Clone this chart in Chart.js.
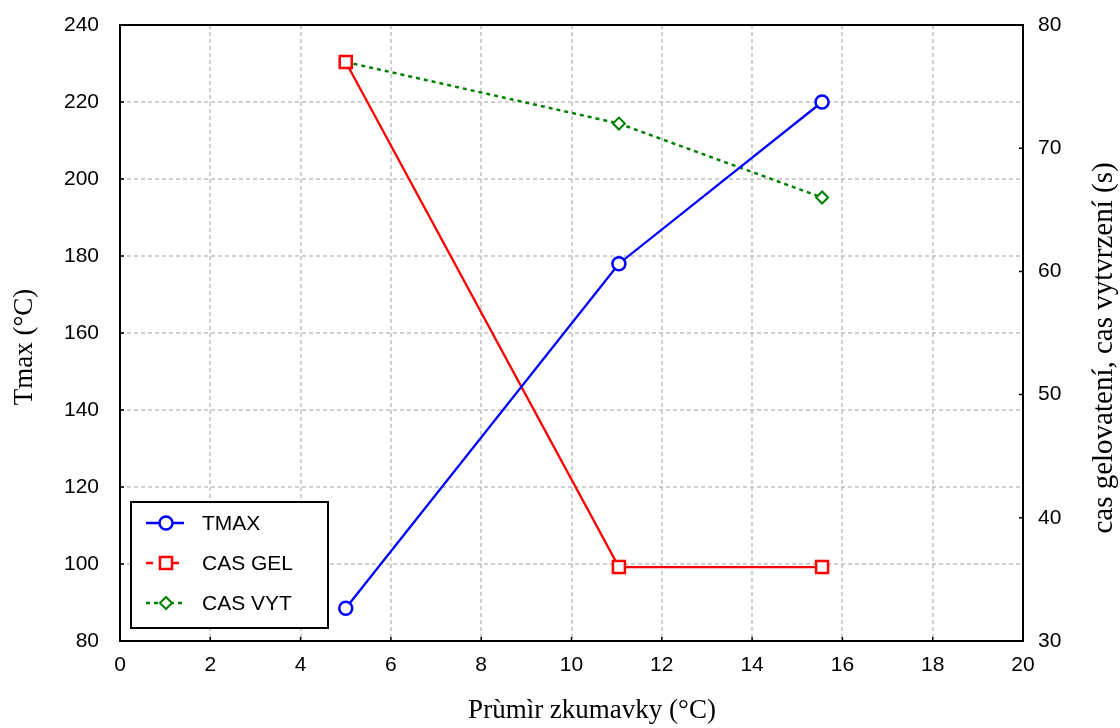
<!DOCTYPE html>
<html>
<head>
<meta charset="utf-8">
<title>Tmax a casy</title>
<script src="https://cdn.jsdelivr.net/npm/chart.js@4/dist/chart.umd.min.js"></script>
<style>
    html, body { margin: 0; padding: 0; background: #fff; }
    #wrap { width: 1120px; height: 728px; }
</style>
</head>
<body>
<div id="wrap"><canvas id="chart" width="1120" height="728"></canvas></div>
<script>
// prumer zkumavky
const diameters = [5.0, 11.05, 15.55];
// Tmax (°C), leva osa
const tmaxValues = [88.5, 178, 220];
// casy (s), prava osa
const casGelValues = [77, 36, 36];
const casVytValues = [77, 72, 66];

const seriesNames = ['TMAX', 'CAS GEL', 'CAS VYT'];
const xTicks = [0, 2, 4, 6, 8, 10, 12, 14, 16, 18, 20];
const leftTicks = [80, 100, 120, 140, 160, 180, 200, 220, 240];
const rightTicks = [30, 40, 50, 60, 70, 80];

const xTitle = 'Prùmìr zkumavky (°C)';
const leftTitle = 'Tmax (°C)';
const rightTitle = 'cas gelovatení, cas vytvrzení (s)';

const tickFont = { family: '"Liberation Sans", Arial, sans-serif', size: 21 };
const serif = '"Liberation Serif", "Times New Roman", serif';

function points(values) {
    return values.map((v, i) => ({ x: diameters[i], y: v }));
}

// dashed grey grid, drawn under the lines
const dashedGrid = {
    id: 'dashedGrid',
    beforeDatasetsDraw(chart) {
        const ctx = chart.ctx;
        const a = chart.chartArea;
        const x = chart.scales.x, yl = chart.scales.y;
        ctx.save();
        ctx.strokeStyle = '#c0c0c0';
        ctx.lineWidth = 1.5;
        ctx.setLineDash([4, 3]);
        ctx.beginPath();
        xTicks.forEach(t => {
            const px = Math.round(x.getPixelForValue(t));
            ctx.moveTo(px, a.top); ctx.lineTo(px, a.bottom);
        });
        leftTicks.forEach(t => {
            const py = Math.round(yl.getPixelForValue(t));
            ctx.moveTo(a.left, py); ctx.lineTo(a.right, py);
        });
        ctx.stroke();
        ctx.restore();
    }
};

// frame around plot area + small inward ticks + axis titles
const framePlugin = {
    id: 'frame',
    afterDatasetsDraw(chart) {
        const ctx = chart.ctx;
        const a = chart.chartArea;
        ctx.save();
        ctx.strokeStyle = '#000';
        ctx.lineWidth = 2;
        ctx.strokeRect(a.left, a.top, a.right - a.left, a.bottom - a.top);
        ctx.lineWidth = 1.5;
        ctx.beginPath();
        const x = chart.scales.x, yl = chart.scales.y, yr = chart.scales.y1;
        xTicks.forEach(t => {
            const px = x.getPixelForValue(t);
            ctx.moveTo(px, a.bottom); ctx.lineTo(px, a.bottom - 4);
        });
        leftTicks.forEach(t => {
            const py = yl.getPixelForValue(t);
            ctx.moveTo(a.left, py); ctx.lineTo(a.left + 4, py);
        });
        rightTicks.forEach(t => {
            const py = yr.getPixelForValue(t);
            ctx.moveTo(a.right, py); ctx.lineTo(a.right - 4, py);
        });
        ctx.stroke();

        // titles sit a bit right/below the plot centre
        ctx.fillStyle = '#000';
        ctx.textAlign = 'center';
        ctx.textBaseline = 'middle';
        ctx.font = '27px ' + serif;
        ctx.fillText(xTitle, 592, 711);
        ctx.save();
        ctx.translate(25, 347);
        ctx.rotate(-Math.PI / 2);
        ctx.fillText(leftTitle, 0, 0);
        ctx.restore();
        ctx.save();
        ctx.font = '29px ' + serif;
        ctx.translate(1104, 348);
        ctx.rotate(-Math.PI / 2);
        ctx.fillText(rightTitle, 0, 0);
        ctx.restore();
        ctx.restore();
    }
};

// boxed legend in lower left corner
const boxLegend = {
    id: 'boxLegend',
    afterDraw(chart) {
        const ctx = chart.ctx;
        const left = 131, top = 502, w = 197, h = 126;
        ctx.save();
        ctx.fillStyle = '#fff';
        ctx.fillRect(left, top, w, h);
        ctx.strokeStyle = '#000';
        ctx.lineWidth = 2;
        ctx.strokeRect(left, top, w, h);
        const rowDash = [[], [7, 6], [4, 4]];
        chart.data.datasets.forEach((ds, i) => {
            const y = top + 21 + i * 40;
            ctx.strokeStyle = ds.borderColor;
            ctx.lineWidth = ds.borderWidth;
            ctx.setLineDash(rowDash[i]);
            ctx.beginPath();
            ctx.moveTo(146, y);
            ctx.lineTo(184, y);
            ctx.stroke();
            ctx.setLineDash([]);
            ctx.fillStyle = '#fff';
            ctx.strokeStyle = ds.borderColor;
            ctx.lineWidth = ds.pointBorderWidth;
            Chart.helpers.drawPoint(ctx, {
                pointStyle: ds.pointStyle,
                radius: ds.pointRadius,
                borderWidth: ds.pointBorderWidth
            }, 166, y);
            ctx.fillStyle = '#000';
            ctx.font = '21px "Liberation Sans", Arial, sans-serif';
            ctx.textBaseline = 'middle';
            ctx.fillText(seriesNames[i], 202, y + 1);
        });
        ctx.restore();
    }
};

const cfg = {
    type: 'line',
    data: {
        datasets: [{
            label: seriesNames[0],
            data: points(tmaxValues),
            yAxisID: 'y',
            borderColor: '#0000ff',
            backgroundColor: '#fff',
            borderWidth: 2.3,
            pointStyle: 'circle',
            pointRadius: 6.5,
            pointBorderWidth: 2.5,
            pointBackgroundColor: '#fff'
        }, {
            label: seriesNames[1],
            data: points(casGelValues),
            yAxisID: 'y1',
            borderColor: '#ff0000',
            backgroundColor: '#fff',
            borderWidth: 2.3,
            pointStyle: 'rect',
            pointRadius: 8.5,
            pointBorderWidth: 2.5,
            pointBackgroundColor: '#fff'
        }, {
            label: seriesNames[2],
            data: points(casVytValues),
            yAxisID: 'y1',
            borderColor: '#008000',
            backgroundColor: '#fff',
            borderWidth: 2.5,
            borderDash: [4, 4],
            pointStyle: 'rectRot',
            pointRadius: 6,
            pointBorderWidth: 2,
            pointBackgroundColor: '#fff'
        }]
    },
    options: {
        responsive: false,
        animation: false,
        layout: { padding: { top: 25, left: 0, right: 0, bottom: 0 } },
        plugins: { legend: { display: false }, tooltip: { enabled: false } },
        scales: {
            x: {
                type: 'linear',
                min: 0, max: 20,
                afterBuildTicks: s => { s.ticks = xTicks.map(v => ({ value: v })); },
                afterFit: s => { s.height = 87; s.paddingLeft = 0; s.paddingRight = 0; },
                border: { display: false },
                grid: { display: false, drawTicks: false },
                ticks: { color: '#000', font: tickFont, padding: 12, maxRotation: 0 }
            },
            y: {
                position: 'left',
                min: 80, max: 240,
                afterBuildTicks: s => { s.ticks = leftTicks.map(v => ({ value: v })); },
                afterFit: s => { s.width = 120; s.paddingTop = 0; s.paddingBottom = 0; },
                border: { display: false },
                grid: { display: false, drawTicks: false },
                ticks: { color: '#000', font: tickFont, padding: 21 }
            },
            y1: {
                position: 'right',
                min: 30, max: 80,
                afterBuildTicks: s => { s.ticks = rightTicks.map(v => ({ value: v })); },
                afterFit: s => { s.width = 97; s.paddingTop = 0; s.paddingBottom = 0; },
                border: { display: false },
                grid: { display: false, drawTicks: false },
                ticks: { color: '#000', font: tickFont, padding: 15 }
            }
        }
    },
    plugins: [dashedGrid, framePlugin, boxLegend]
};

new Chart(document.getElementById('chart'), cfg);
</script>
</body>
</html>
